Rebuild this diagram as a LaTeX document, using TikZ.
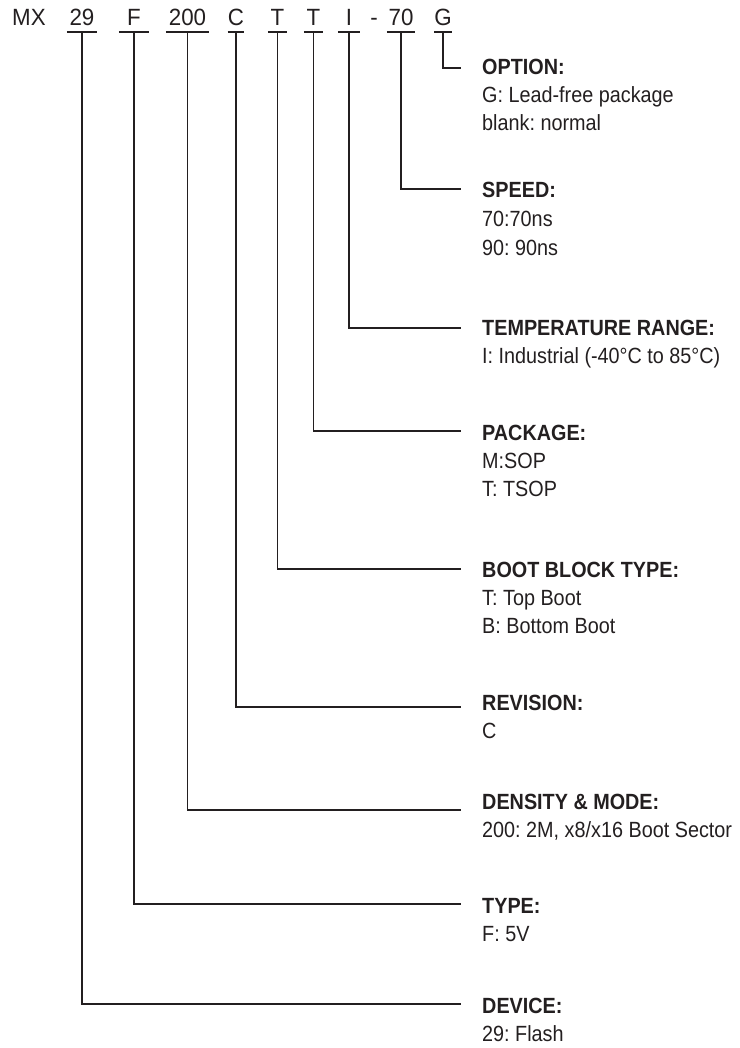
\documentclass[tikz,border=0pt]{standalone}
\usepackage{fontspec}
\setmainfont{Liberation Sans}
\newfontfamily\narrowfont[FakeStretch=0.9]{Liberation Sans}
\newfontfamily\topfont[FakeStretch=0.95]{Liberation Sans}
\definecolor{ink}{RGB}{35,31,32}
\begin{document}
\frenchspacing
\begin{tikzpicture}[x=1pt,y=-1pt,
  tok/.style={anchor=base, inner xsep=0pt, inner ysep=0pt, text=ink, font=\topfont\fontsize{23.5}{26}\selectfont},
  lbl/.style={anchor=base west, inner sep=0pt, text=ink, font=\narrowfont\fontsize{22}{28}\selectfont},
  uline/.style={draw=ink, line width=1.5pt},
  conn/.style={draw=ink, line width=1.5pt}]
\useasboundingbox (0,0) rectangle (739,1048);
% part number tokens
\node[tok, anchor=base west] (mx) at (12,26) {MX};
\node[tok, minimum width=30pt] (t29) at (82,26) {29};
\node[tok, minimum width=30pt] (tF) at (134,26) {F};
\node[tok, minimum width=43pt] (t200) at (187.5,26) {200};
\node[tok, minimum width=14pt] (tC) at (236,26) {C};
\node[tok, minimum width=19pt] (tT1) at (277.5,26) {T};
\node[tok, minimum width=19pt] (tT2) at (313.5,26) {T};
\node[tok, minimum width=22pt] (tI) at (349,26) {I};
\node[tok] (dash) at (374,26) {-};
\node[tok, minimum width=28pt] (t70) at (401,26) {70};
\node[tok, minimum width=17pt] (tG) at (443,26) {G};
% underlines
\foreach \n in {t29,tF,t200,tC,tT1,tT2,tI,t70,tG}{
  \draw[uline] ([yshift=-6pt]\n.base west) -- ([yshift=-6pt]\n.base east);
  \coordinate (u\n) at ([yshift=-6pt]\n.base);
}
% labels
\node[lbl] (lG) at (482,75) {\vtop{\baselineskip=28pt\hbox{\bfseries OPTION:}\hbox{G: Lead-free package}\hbox{blank: normal}}};
\node[lbl] (l70) at (482,198) {\vtop{\baselineskip=29pt\hbox{\bfseries SPEED:}\hbox{70:70ns}\hbox{90: 90ns}}};
\node[lbl] (lI) at (482,335) {\vtop{\baselineskip=28pt\hbox{\bfseries TEMPERATURE RANGE:}\hbox{I: Industrial (-40°C to 85°C)}}};
\node[lbl] (lT2) at (482,440) {\vtop{\baselineskip=28pt\hbox{\bfseries PACKAGE:}\hbox{M:SOP}\hbox{T: TSOP}}};
\node[lbl] (lT1) at (482,577) {\vtop{\baselineskip=28pt\hbox{\bfseries BOOT BLOCK TYPE:}\hbox{T: Top Boot}\hbox{B: Bottom Boot}}};
\node[lbl] (lC) at (482,710) {\vtop{\baselineskip=28pt\hbox{\bfseries REVISION:}\hbox{C}}};
\node[lbl] (l200) at (482,809) {\vtop{\baselineskip=28pt\hbox{\bfseries DENSITY \& MODE:}\hbox{200: 2M, x8/x16 Boot Sector}}};
\node[lbl] (lF) at (482,913) {\vtop{\baselineskip=28pt\hbox{\bfseries TYPE:}\hbox{F: 5V}}};
\node[lbl] (l29) at (482,1013) {\vtop{\baselineskip=28pt\hbox{\bfseries DEVICE:}\hbox{29: Flash}}};
% connector ends
\coordinate (eG) at (461,68);
\coordinate (e70) at (461,189);
\coordinate (eI) at (461,328);
\coordinate (eT2) at (461,431);
\coordinate (eT1) at (461,569);
\coordinate (eC) at (461,707);
\coordinate (e200) at (461,810);
\coordinate (eF) at (461,904);
\coordinate (e29) at (461,1004);
% connectors
\draw[conn] (utG) |- (eG);
\draw[conn] (ut70) |- (e70);
\draw[conn] (utI) |- (eI);
\draw[conn] (utT2) |- (eT2);
\draw[conn] (utT1) |- (eT1);
\draw[conn] (utC) |- (eC);
\draw[conn] (ut200) |- (e200);
\draw[conn] (utF) |- (eF);
\draw[conn] (ut29) |- (e29);
\end{tikzpicture}
\end{document}
